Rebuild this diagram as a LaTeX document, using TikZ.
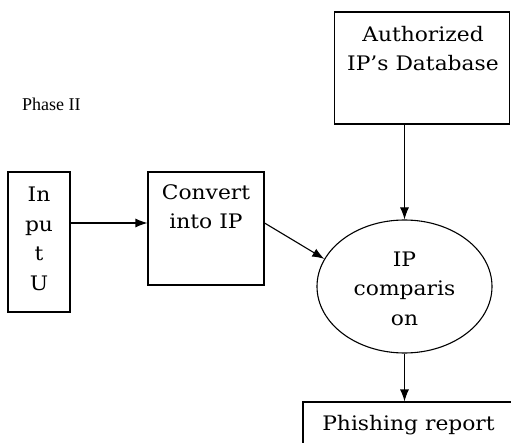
\documentclass[tikz,border=0pt]{standalone}
\usepackage{fontspec}
\setmainfont[FakeStretch=1.09]{DejaVu Serif}
\newfontfamily\phasefont{Liberation Serif}
\usetikzlibrary{arrows.meta,shapes.geometric}

\tikzset{
  blk/.style={draw, line width=1.1pt, rectangle, inner sep=0pt},
  oval/.style={draw, line width=1.1pt, ellipse, inner sep=0pt},
  txt/.style={align=center, inner sep=0pt, font=\fontsize{20}{29.5}\selectfont},
}

\begin{document}
\begin{tikzpicture}[x=1pt, y=-1pt, >={Latex[length=12pt,width=9pt]}]
\useasboundingbox (0,0) rectangle (511,443);
\clip (0,0) rectangle (511,443);

% boxes
\node[blk, minimum width=62pt, minimum height=140pt] (inp) at (39,242) {};
\node[blk, minimum width=116pt, minimum height=113pt] (cvt) at (206,228.5) {};
\node[blk, minimum width=175pt, minimum height=112pt] (db) at (422,68) {};
\node[oval, minimum width=175pt, minimum height=133pt] (cmp) at (404.5,286.5) {};
\node[blk, minimum width=240pt, minimum height=80pt] (rpt) at (423,442) {};

% texts (base = last line)
\node[txt, anchor=base] (inptxt) at (39,290.5) {In\\pu\\t\\U};
\node[txt, anchor=base] (cvttxt) at (206,229) {Convert\\into IP};
\node[txt, anchor=base] (dbtxt) at (423,71) {Authorized\\IP’s Database};
\node[txt, anchor=base] (cmptxt) at (404.5,325.5) {IP\\comparis\\on};
\node[txt, anchor=base] (rpttxt) at (408.5,430.5) {Phishing report};
\node[anchor=base west, inner sep=0pt, font=\phasefont\fontsize{18}{20}\selectfont] (phase) at (22,110.5) {Phase II};

% connectors
\begin{scope}[line width=1.1pt, ->]
\draw ([yshift=19pt]inp.east) -- ([yshift=5.5pt]cvt.west);
\draw ([yshift=5.5pt]cvt.east) -- (cmp.161);
\draw (db.south -| cmp.north) -- (cmp.north);
\draw (cmp.south) -- (rpt.north -| cmp.south);
\end{scope}

\end{tikzpicture}
\end{document}
